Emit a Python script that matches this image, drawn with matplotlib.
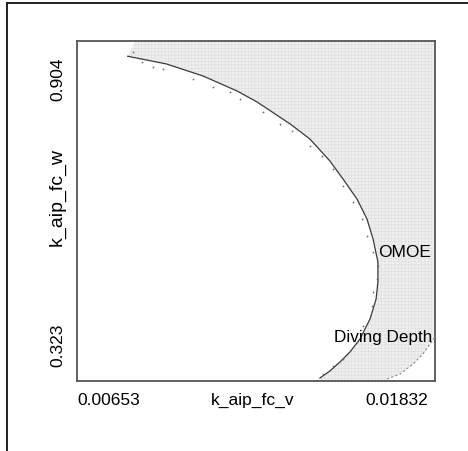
import matplotlib.pyplot as plt
from matplotlib.lines import Line2D

plt.rcParams['font.family'] = ['Liberation Sans', 'DejaVu Sans']
plt.rcParams['hatch.linewidth'] = 0.4

# axis range of the two design variables
v_range = (0.00653, 0.01832)
w_range = (0.323, 0.904)

# OMOE constraint boundary (solid line)
omoe_v = [0.00820, 0.00948, 0.01068, 0.01180, 0.01246, 0.01355, 0.01420, 0.01486,
          0.01529, 0.01575, 0.01608, 0.01628, 0.01644, 0.01644, 0.01638, 0.01618,
          0.01585, 0.01552, 0.01519, 0.01486, 0.01453]
omoe_w = [0.8779, 0.8647, 0.8442, 0.8186, 0.7998, 0.7622, 0.7365, 0.6989,
          0.6682, 0.6340, 0.5998, 0.5656, 0.5263, 0.4922, 0.4631, 0.4289,
          0.3948, 0.3726, 0.3555, 0.3401, 0.3281]

# sampled points along the OMOE boundary
pts_v = [0.00837, 0.00867, 0.00903, 0.00936, 0.01035, 0.01101, 0.01157, 0.01190,
         0.01266, 0.01322, 0.01361, 0.01420, 0.01460, 0.01496, 0.01529, 0.01562,
         0.01592, 0.01608, 0.01628, 0.01644, 0.01641, 0.01628, 0.01625, 0.01595,
         0.01575, 0.01529, 0.01496, 0.01463]
pts_w = [0.8852, 0.8681, 0.8596, 0.8561, 0.8391, 0.8254, 0.8168, 0.8049,
         0.7827, 0.7622, 0.7502, 0.7246, 0.7075, 0.6853, 0.6562, 0.6289,
         0.5998, 0.5708, 0.5434, 0.5195, 0.4973, 0.4751, 0.4512, 0.4170,
         0.3896, 0.3606, 0.3486, 0.3350]

# diving depth constraint boundary
depth_v = [0.01674, 0.01717, 0.01760, 0.01792, 0.01816, 0.01832]
depth_w = [0.3264, 0.3350, 0.3520, 0.3691, 0.3862, 0.3982]

fig = plt.figure(figsize=(4.68, 4.52), dpi=100)
ax = fig.add_axes([0.1645, 0.1549, 0.765, 0.7522])

# infeasible region between the two constraints
top_edge_v = 0.00844
poly_v = [top_edge_v] + omoe_v + [omoe_v[-1], depth_v[0]] + depth_v + [v_range[1]]
poly_w = [w_range[1]] + omoe_w + [w_range[0], w_range[0]] + depth_w + [w_range[1]]
ax.fill(poly_v, poly_w, facecolor='#efefef', edgecolor='#dedede', linewidth=0,
        hatch='+++++', zorder=1)

ax.plot(omoe_v, omoe_w, color='#3a3a3a', linewidth=0.9, zorder=3)
ax.plot(pts_v, pts_w, linestyle='none', marker='o', markersize=1.3,
        color='#707070', markeredgewidth=0, zorder=3)
ax.plot(depth_v, depth_w, color='#8a8a8a', linewidth=0.8, linestyle=(0, (2, 2)), zorder=3)

ax.set_xlim(*v_range)
ax.set_ylim(*w_range)
ax.set_xticks([])
ax.set_yticks([])
for sp in ax.spines.values():
    sp.set_color('#555555')
    sp.set_linewidth(1.3)

tf = ax.transAxes
fs = 12.5
ax.text(0.0, -0.053, f'{v_range[0]:.5f}', transform=tf, ha='left', va='center', fontsize=fs)
ax.text(0.98, -0.053, f'{v_range[1]:.5f}', transform=tf, ha='right', va='center', fontsize=fs)
ax.text(0.492, -0.053, 'k_aip_fc_v', transform=tf, ha='center', va='center', fontsize=fs)
ax.text(-0.0545, 0.891, f'{w_range[1]:.3f}', transform=tf, ha='center', va='center',
        rotation=90, fontsize=fs)
ax.text(-0.0545, 0.109, f'{w_range[0]:.3f}', transform=tf, ha='center', va='center',
        rotation=90, fontsize=fs)
ax.text(-0.0545, 0.544, 'k_aip_fc_w', transform=tf, ha='center', va='center',
        rotation=90, fontsize=14)

# constraint labels, placed in data coordinates
ax.text(0.01644, 0.5451, 'OMOE', ha='left', va='center', fontsize=12.5, zorder=4)
ax.text(0.01499, 0.3982, 'Diving Depth', ha='left', va='center', fontsize=12.3, zorder=4)

# page frame (top and left edges)
fig.add_artist(Line2D([7.5 / 468, 1.0], [1 - 3.5 / 452] * 2, transform=fig.transFigure,
                      color='#222222', linewidth=1.4))
fig.add_artist(Line2D([7.5 / 468] * 2, [0.0, 1 - 3.5 / 452], transform=fig.transFigure,
                      color='#222222', linewidth=1.4))

fig.savefig('out.png', dpi=100)
